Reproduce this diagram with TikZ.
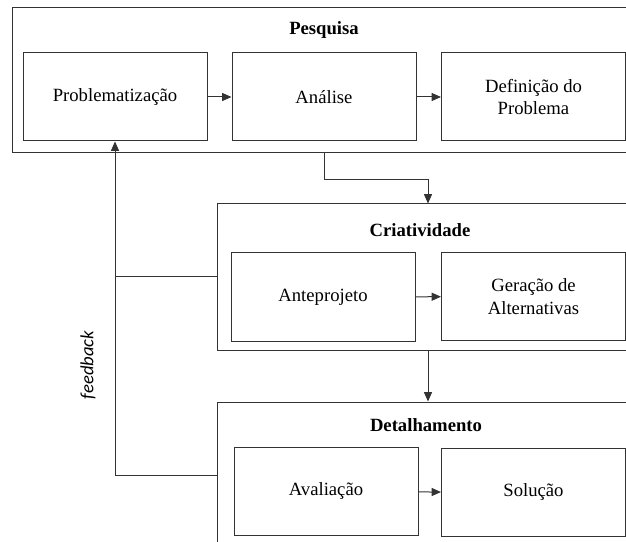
\documentclass[tikz,border=0pt]{standalone}
\usepackage{fontspec}
\setmainfont{Liberation Serif}
\newfontfamily\fbfont{Carlito}
\usetikzlibrary{arrows.meta}

\begin{document}
\begin{tikzpicture}[x=0.75pt,y=-0.75pt,
  every node/.style={font=\fontsize{14}{17}\selectfont},
  stage/.style={draw=black!80,line width=0.75pt,minimum height=109.5pt,inner sep=0pt},
  task/.style={draw=black!80,line width=0.75pt,minimum width=138pt,minimum height=66pt,align=center,inner sep=0pt},
  title/.style={font=\fontsize{14}{17}\selectfont\bfseries},
  link/.style={draw=black!80,line width=0.75pt},
  arr/.style={link,-{Triangle[length=7pt,width=6pt]}}]
  \clip (0,0) rectangle (626,542);

  % etapas
  \node[stage,minimum width=468pt,minimum height=108.75pt] (pesq) at (324,80.5) {};
  \node[stage,minimum width=316.5pt] (crea) at (428,277) {};
  \node[stage,minimum width=315pt] (deta) at (427,475) {};
  \node[title] (pesqt) at (324,30) {Pesquisa};
  \node[title] (creat) at (420,230) {Criatividade};
  \node[title] (detat) at (426,425) {Detalhamento};

  % tarefas
  \node[task] (prob) at (115,97) {Problematização};
  \node[task] (anal) at (324,97) {Análise};
  \node[task] (defi) at (533.5,97) {Definição do\\Problema};
  \node[task] (ante) at (323,297) {Anteprojeto};
  \node[task] (gera) at (533.5,296.5) {Geração de\\Alternativas};
  \node[task] (aval) at (326,491.5) {Avaliação};
  \node[task] (solu) at (533.5,492.5) {Solução};
  \node[rotate=90,font=\fontsize{14}{17}\fbfont\itshape] (fbtext) at (88,365) {feedback};

  \draw[arr] (prob) -- (anal);
  \draw[arr] (anal) -- (defi);
  \draw[arr] (ante) -- (gera);
  \draw[arr] (aval) -- (solu);
  \draw[arr] (pesq.south) -- ++(0,26) -| (crea.north);
  \draw[arr] (crea.south) -- (crea.south |- deta.north);
  \draw[arr] (deta.west) -| (prob.south);
  \draw[link] (crea.west) -- (crea.west -| prob.south);
\end{tikzpicture}
\end{document}
